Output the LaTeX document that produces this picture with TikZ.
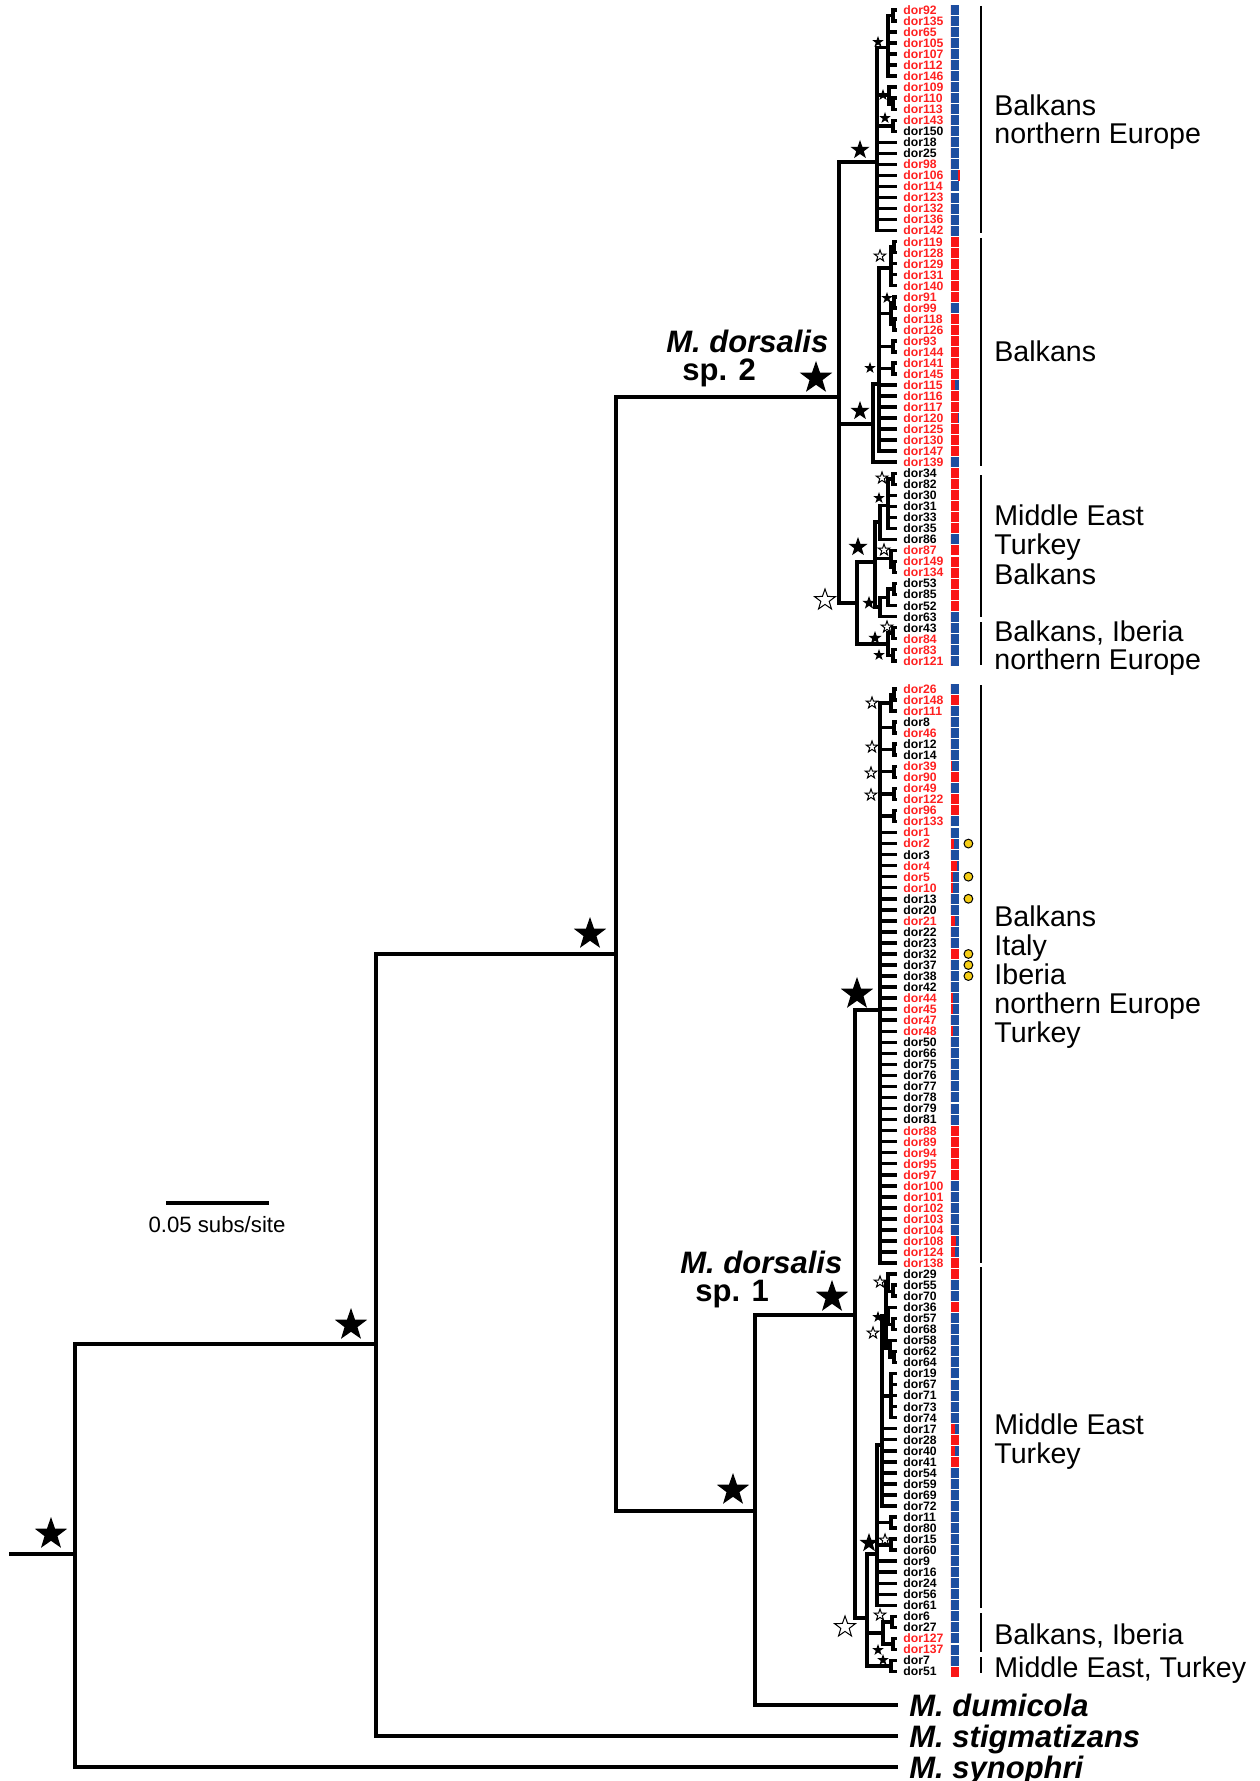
\documentclass[tikz,border=0pt]{standalone}
\usepackage{fontspec}
\setsansfont{Liberation Sans}
\usetikzlibrary{shapes.geometric}

\definecolor{barblue}{RGB}{30,78,160}
\definecolor{barred}{RGB}{250,22,22}
\definecolor{labR}{RGB}{255,32,32}
\definecolor{labK}{RGB}{0,0,0}
\definecolor{dotyel}{RGB}{245,205,20}

% tip rows: 1..60 = sp. 2, 61..150 = sp. 1
\pgfmathdeclarefunction{tipy}{1}{%
  \pgfmathparse{(#1<61) ? (10+11.03*(#1-1)) : (689+11.04*(#1-61))}%
}

\begin{document}
\begin{tikzpicture}[
  x=0.5pt, y=-0.5pt,
  every node/.style={font=\sffamily},
  br/.style={line width=1.75pt},
  rng/.style={line width=1.4pt},
  tiplab/.style={anchor=west, inner xsep=3pt, inner ysep=0pt, text height=4.4pt, text depth=0pt,
                 font=\sffamily\bfseries\fontsize{6.1}{7}\selectfont},
  bar/.style={rectangle, inner sep=0pt, minimum width=4.3pt, minimum height=5pt, fill=barblue,
              path picture={\fill[barred] (path picture bounding box.south west) rectangle ++({#1*4.3pt},5pt);}},
  dot/.style={circle, draw=black, line width=0.5pt, fill=dotyel, inner sep=0pt, minimum size=4.4pt},
  bstar/.style={star, star points=5, star point ratio=2.5, fill=black, inner sep=0pt, minimum size=#1},
  ostar/.style={star, star points=5, star point ratio=2.5, fill=white, draw=black, line width=0.5pt,
                inner sep=0pt, minimum size=#1},
  spec/.style={anchor=west, inner xsep=5.5pt, inner ysep=0pt, text height=11.2pt, text depth=0pt,
               font=\sffamily\bfseries\itshape\fontsize{15.5}{16}\selectfont},
  cladelab/.style={anchor=base west, inner sep=0pt, font=\sffamily\bfseries\fontsize{15.5}{16}\selectfont},
  region/.style={anchor=base west, inner sep=0pt, font=\sffamily\fontsize{14.3}{14.5}\selectfont},
]
\useasboundingbox (0,0) rectangle (1259,1781);

% ------------------------------------------------------------------ tips --
\foreach \i/\n/\c/\f in {
  1/92/R/0, 2/135/R/0, 3/65/R/0, 4/105/R/0, 5/107/R/0, 6/112/R/0, 7/146/R/0, 8/109/R/0,
  9/110/R/0, 10/113/R/0, 11/143/R/0, 12/150/K/0, 13/18/K/0, 14/25/K/0, 15/98/R/0, 16/106/R/0,
  17/114/R/0, 18/123/R/0, 19/132/R/0, 20/136/R/0, 21/142/R/0, 22/119/R/1, 23/128/R/1, 24/129/R/1,
  25/131/R/1, 26/140/R/1, 27/91/R/1, 28/99/R/0, 29/118/R/1, 30/126/R/1, 31/93/R/1, 32/144/R/1,
  33/141/R/1, 34/145/R/1, 35/115/R/0.5, 36/116/R/1, 37/117/R/1, 38/120/R/0.85, 39/125/R/1, 40/130/R/1,
  41/147/R/1, 42/139/R/0, 43/34/K/1, 44/82/K/1, 45/30/K/1, 46/31/K/1, 47/33/K/1, 48/35/K/1,
  49/86/K/0, 50/87/R/1, 51/149/R/1, 52/134/R/1, 53/53/K/1, 54/85/K/1, 55/52/K/1, 56/63/K/0,
  57/43/K/0, 58/84/R/0, 59/83/R/0, 60/121/R/0,
  61/26/R/0, 62/148/R/1, 63/111/R/0, 64/8/K/0, 65/46/R/0, 66/12/K/0, 67/14/K/0, 68/39/R/0.2,
  69/90/R/1, 70/49/R/0, 71/122/R/1, 72/96/R/1, 73/133/R/0, 74/1/R/0, 75/2/R/0.38, 76/3/K/0,
  77/4/R/0.7, 78/5/R/0.22, 79/10/R/0.22, 80/13/K/0, 81/20/K/0, 82/21/R/0.45, 83/22/K/0, 84/23/K/0,
  85/32/K/1, 86/37/K/0, 87/38/K/0, 88/42/K/0, 89/44/R/0.22, 90/45/R/0.22, 91/47/R/0, 92/48/R/0.22,
  93/50/K/0, 94/66/K/0, 95/75/K/0, 96/76/K/0, 97/77/K/0, 98/78/K/0, 99/79/K/0, 100/81/K/0,
  101/88/R/1, 102/89/R/1, 103/94/R/1, 104/95/R/1, 105/97/R/1, 106/100/R/0, 107/101/R/0, 108/102/R/0,
  109/103/R/0, 110/104/R/0, 111/108/R/0.58, 112/124/R/0.46, 113/138/R/1, 114/29/K/1, 115/55/K/0, 116/70/K/0,
  117/36/K/1, 118/57/K/0, 119/68/K/0, 120/58/K/0, 121/62/K/0, 122/64/K/0, 123/19/K/0, 124/67/K/0,
  125/71/K/0, 126/73/K/0, 127/74/K/0, 128/17/K/0.5, 129/28/K/1, 130/40/K/0.46, 131/41/K/1, 132/54/K/0,
  133/59/K/0, 134/69/K/0, 135/72/K/0, 136/11/K/0, 137/80/K/0, 138/15/K/0, 139/60/K/0, 140/9/K/0,
  141/16/K/0, 142/24/K/0, 143/56/K/0, 144/61/K/0, 145/6/K/0, 146/27/K/0, 147/127/R/0, 148/137/R/0,
  149/7/K/0, 150/51/K/1}{
  \pgfmathsetmacro\yy{tipy(\i)}
  \node[tiplab, text=lab\c] (d\n) at (897,\yy) {dor\n};
  \node[bar=\f] (b\n) at (955,\yy) {};
}
\fill[barred] ([xshift=-0.7pt]b106.north east) rectangle (b106.south east);

\foreach \n in {2,5,13,32,37,38}
  \node[dot] (y\n) at ([xshift=4.35pt]b\n.east) {};

% -------------------------------------------------------------- backbone --
\coordinate (base) at (9,1554);
\coordinate (r)   at (75,1554);
\coordinate (n1)  at (376,1344);
\coordinate (n2)  at (616,954);
\coordinate (n3)  at (755,1511);
\coordinate (sp2) at (839,397);
\coordinate (sp1) at (855,1315);

\node[spec] (dumi) at (898,1705) {M. dumicola};
\node[spec] (stig) at (898,1736) {M. stigmatizans};
\node[spec] (syn)  at (898,1767) {M. synophri};

\draw[br] (base) -- (r);
\foreach \k in {n1,syn} \draw[br] (r) |- (\k);
\foreach \k in {n2,stig} \draw[br] (n1) |- (\k);
\foreach \k in {sp2,n3} \draw[br] (n2) |- (\k);
\foreach \k in {sp1,dumi} \draw[br] (n3) |- (\k);

% ---------------------------------------------------------------- sp. 2 --
\coordinate (C1)  at (877,162);
\coordinate (c1a) at (888,47.7);
\coordinate (p1)  at (893,15.5);
\coordinate (c1b) at (889,95.7);
\coordinate (p2)  at (893,103.8);
\coordinate (p3)  at (893,125.8);
\coordinate (C2)  at (873,424);
\coordinate (c2in) at (879,384);
\coordinate (c2a) at (891,268);
\coordinate (p4)  at (894,247.2);
\coordinate (c2b) at (891,313.3);
\coordinate (p5)  at (894,302.3);
\coordinate (p6)  at (894,324.4);
\coordinate (p7)  at (893,346.4);
\coordinate (p8)  at (893,368.5);
\coordinate (C3)  at (857,603);
\coordinate (B)   at (875,562);
\coordinate (B1)  at (880,522.2);
\coordinate (c43) at (888,505.3);
\coordinate (p9)  at (893,478.8);
\coordinate (c50) at (891,558.7);
\coordinate (p10) at (894,567);
\coordinate (B3)  at (880,607);
\coordinate (c53) at (888,597.4);
\coordinate (p11) at (894,589.1);
\coordinate (C)   at (888,644.2);
\coordinate (p12) at (893,633.2);
\coordinate (p13) at (893,655.3);

\foreach \k in {C1,C2,C3} \draw[br] (sp2) |- (\k);
\foreach \k in {c1a,c1b,p3,d18,d25,d98,d106,d114,d123,d132,d136,d142} \draw[br] (C1) |- (\k);
\foreach \k in {p1,d65,d105,d107,d112,d146} \draw[br] (c1a) |- (\k);
\foreach \k in {d92,d135} \draw[br] (p1) |- (\k);
\foreach \k in {d109,p2} \draw[br] (c1b) |- (\k);
\foreach \k in {d110,d113} \draw[br] (p2) |- (\k);
\foreach \k in {d143,d150} \draw[br] (p3) |- (\k);
\foreach \k in {c2in,d139} \draw[br] (C2) |- (\k);
\foreach \k in {c2a,c2b,p7,p8,d115,d116,d117,d120,d125,d130,d147} \draw[br] (c2in) |- (\k);
\foreach \k in {p4,d129,d131,d140} \draw[br] (c2a) |- (\k);
\foreach \k in {d119,d128} \draw[br] (p4) |- (\k);
\foreach \k in {p5,p6} \draw[br] (c2b) |- (\k);
\foreach \k in {d91,d99} \draw[br] (p5) |- (\k);
\foreach \k in {d118,d126} \draw[br] (p6) |- (\k);
\foreach \k in {d93,d144} \draw[br] (p7) |- (\k);
\foreach \k in {d141,d145} \draw[br] (p8) |- (\k);
\foreach \k in {B,C} \draw[br] (C3) |- (\k);
\foreach \k in {B1,c50,B3} \draw[br] (B) |- (\k);
\foreach \k in {c43,d86} \draw[br] (B1) |- (\k);
\foreach \k in {p9,d30,d31,d33,d35} \draw[br] (c43) |- (\k);
\foreach \k in {d34,d82} \draw[br] (p9) |- (\k);
\foreach \k in {d87,p10} \draw[br] (c50) |- (\k);
\foreach \k in {d149,d134} \draw[br] (p10) |- (\k);
\foreach \k in {c53,d63} \draw[br] (B3) |- (\k);
\foreach \k in {p11,d52} \draw[br] (c53) |- (\k);
\foreach \k in {d53,d85} \draw[br] (p11) |- (\k);
\foreach \k in {p12,p13} \draw[br] (C) |- (\k);
\foreach \k in {d43,d84} \draw[br] (p12) |- (\k);
\foreach \k in {d83,d121} \draw[br] (p13) |- (\k);

% ---------------------------------------------------------------- sp. 1 --
\coordinate (D1)  at (880,1010);
\coordinate (cA)  at (891,702.8);
\coordinate (p14) at (894,694.5);
\coordinate (p15) at (894,727.6);
\coordinate (p16) at (894,749.6);
\coordinate (p17) at (894,771.7);
\coordinate (p18) at (894,793.8);
\coordinate (p19) at (894,815.9);
\coordinate (D2)  at (867,1618);
\coordinate (E)   at (877,1554);
\coordinate (X)   at (882,1445);
\coordinate (Y)   at (886,1316);
\coordinate (e1)  at (888,1282.9);
\coordinate (p20) at (893,1291.7);
\coordinate (e2)  at (888,1315.9);
\coordinate (p21) at (893,1324.6);
\coordinate (e3)  at (890,1348.7);
\coordinate (p22) at (894,1357);
\coordinate (e4)  at (891,1395.8);
\coordinate (p23) at (891,1522.7);
\coordinate (p24) at (891,1544.8);
\coordinate (F1)  at (883,1633);
\coordinate (p25) at (892,1621.9);
\coordinate (p26) at (893,1643.9);
\coordinate (p27) at (891,1666);

\foreach \k in {D1,D2} \draw[br] (sp1) |- (\k);
\foreach \k in {cA,p15,p16,p17,p18,p19,d1,d2,d3,d4,d5,d10,d13,d20,d21,d22,d23,d32,d37,d38,d42,
  d44,d45,d47,d48,d50,d66,d75,d76,d77,d78,d79,d81,d88,d89,d94,d95,d97,d100,d101,d102,d103,d104,
  d108,d124,d138} \draw[br] (D1) |- (\k);
\foreach \k in {p14,d111} \draw[br] (cA) |- (\k);
\foreach \k in {d26,d148} \draw[br] (p14) |- (\k);
\foreach \k in {d8,d46} \draw[br] (p15) |- (\k);
\foreach \k in {d12,d14} \draw[br] (p16) |- (\k);
\foreach \k in {d39,d90} \draw[br] (p17) |- (\k);
\foreach \k in {d49,d122} \draw[br] (p18) |- (\k);
\foreach \k in {d96,d133} \draw[br] (p19) |- (\k);
\foreach \k in {E,F1,p27} \draw[br] (D2) |- (\k);
\foreach \k in {X,p23,p24,d9,d16,d24,d56,d61} \draw[br] (E) |- (\k);
\foreach \k in {Y,e4,d17,d28,d40,d41,d54,d59,d69,d72} \draw[br] (X) |- (\k);
\foreach \k in {e1,e2,e3} \draw[br] (Y) |- (\k);
\foreach \k in {d29,p20} \draw[br] (e1) |- (\k);
\foreach \k in {d55,d70} \draw[br] (p20) |- (\k);
\foreach \k in {d36,p21} \draw[br] (e2) |- (\k);
\foreach \k in {d57,d68} \draw[br] (p21) |- (\k);
\foreach \k in {d58,p22} \draw[br] (e3) |- (\k);
\foreach \k in {d62,d64} \draw[br] (p22) |- (\k);
\foreach \k in {d19,d67,d71,d73,d74} \draw[br] (e4) |- (\k);
\foreach \k in {d11,d80} \draw[br] (p23) |- (\k);
\foreach \k in {d15,d60} \draw[br] (p24) |- (\k);
\foreach \k in {p25,p26} \draw[br] (F1) |- (\k);
\foreach \k in {d6,d27} \draw[br] (p25) |- (\k);
\foreach \k in {d127,d137} \draw[br] (p26) |- (\k);
\foreach \k in {d7,d51} \draw[br] (p27) |- (\k);

% ---------------------------------------------------------------- stars --
\foreach \x/\y [count=\k] in {51/1534, 351/1325, 590/934, 816/378, 857/994, 832/1297, 733/1490}
  \node[bstar=17pt] (bs\k) at (\x,\y) {};
\foreach \x/\y [count=\k] in {825/600, 845/1627}
  \node[ostar=11pt] (os\k) at (\x,\y) {};
\foreach \x/\y [count=\k] in {860/150, 860/411, 858/547, 869/1543}
  \node[bstar=10pt] (ms\k) at (\x,\y) {};
\foreach \x/\y [count=\k] in {869/603, 875/638}
  \node[bstar=7pt] (ks\k) at (\x,\y) {};
\foreach \x/\y [count=\k] in {878/42, 883/95, 885/118, 887/298, 870/368, 879/498, 879/655,
  878/1317, 878/1650, 883/1660}
  \node[bstar=6pt] (ss\k) at (\x,\y) {};
\foreach \x/\y [count=\k] in {880/256, 882/478, 884/550, 887/627, 872/703, 872/747, 871/773,
  871/795, 880/1282, 873/1333, 885/1540, 880/1615}
  \node[ostar=6pt] (ws\k) at (\x,\y) {};

% --------------------------------------------------------------- labels --
\node[cladelab] (sp2a) at (666,352) {\itshape M. dorsalis};
\node[cladelab] (sp2b) at (682,380) {sp. 2};
\node[cladelab] (sp1a) at (680,1273) {\itshape M. dorsalis};
\node[cladelab] (sp1b) at (695,1301) {sp. 1};

\coordinate (sb0) at (166,1203);
\coordinate (sb1) at (269,1203);
\draw[br] (sb0) -- (sb1);
\node[anchor=base, inner sep=0pt, font=\sffamily\fontsize{11.1}{12}\selectfont] (sblab) at (217,1232) {0.05 subs/site};

% -------------------------------------------------------------- regions --
\draw[rng] (981,6) -- (981,233);
\draw[rng] (981,238) -- (981,466);
\draw[rng] (981,475) -- (981,617);
\draw[rng] (981,622) -- (981,665);
\draw[rng] (981,685) -- (981,1263);
\draw[rng] (981,1267) -- (981,1608);
\draw[rng] (981,1613) -- (981,1652);
\draw[rng] (981,1657) -- (981,1673);

\foreach \yb/\t [count=\k] in {116/Balkans, 144/northern Europe, 362/Balkans, 525/Middle East,
  554/Turkey, 584/Balkans, 641/{Balkans, Iberia}, 669/northern Europe, 926/Balkans, 955/Italy,
  984/Iberia, 1013/northern Europe, 1042/Turkey, 1434/Middle East, 1463/Turkey,
  1644/{Balkans, Iberia}, 1677/{Middle East, Turkey}}
  \node[region] (g\k) at (994,\yb) {\t};

\end{tikzpicture}
\end{document}
